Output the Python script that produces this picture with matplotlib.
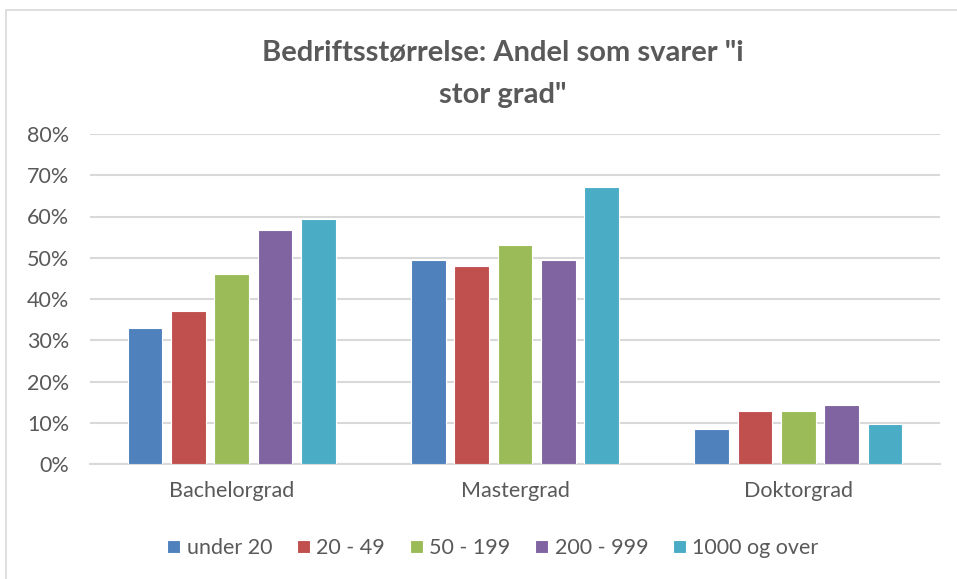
import matplotlib
matplotlib.use("Agg")
import matplotlib.pyplot as plt
import numpy as np
from matplotlib.patches import Rectangle

categories = ["Bachelorgrad", "Mastergrad", "Doktorgrad"]
series_names = ["under 20", "20 - 49", "50 - 199", "200 - 999", "1000 og over"]
under_20 = [32.9, 49.5, 8.4]
s20_49 = [37.0, 48.0, 12.8]
s50_199 = [46.1, 53.1, 12.9]
s200_999 = [56.7, 49.5, 14.2]
s1000_over = [59.4, 67.1, 9.8]
values = [under_20, s20_49, s50_199, s200_999, s1000_over]
colors = ["#4F81BD", "#C0504D", "#9BBB59", "#8064A2", "#4BACC6"]
yticks = [0, 10, 20, 30, 40, 50, 60, 70, 80]

plt.rcParams['font.family'] = ['Lato', 'DejaVu Sans']
fig = plt.figure(figsize=(9.57, 5.79), dpi=100)
fig.patches.append(Rectangle((6/957, -0.01), 1.02, (579-10)/579 + 0.01, transform=fig.transFigure,
                             fill=False, edgecolor="#d9d9d9", linewidth=1.2))
ax = fig.add_axes([90/957, 115/579, 850/957, 330/579])

x = np.arange(len(categories))
bw = 0.122
step = 0.153
for i, (name, vals, c) in enumerate(zip(series_names, values, colors)):
    ax.bar(x + (i - 2) * step, vals, width=bw, color=c, edgecolor="white", linewidth=0.8,
           label=name, zorder=3)

ax.set_xlim(-0.5, 2.5)
ax.set_ylim(0, 80)
ax.set_yticks(yticks)
ax.set_yticklabels([f"{v}%" for v in yticks])
ax.yaxis.grid(True, color="#d9d9d9", linewidth=1.5, zorder=0)
ax.set_axisbelow(True)
for s in ["top", "right", "left"]:
    ax.spines[s].set_visible(False)
ax.spines["bottom"].set_color("#d9d9d9")
ax.spines["bottom"].set_linewidth(1.5)
ax.tick_params(axis="both", length=0, labelsize=15.5, labelcolor="#595959")
ax.tick_params(axis="y", pad=15)
ax.tick_params(axis="x", pad=12)
ax.set_xticks(x)
ax.set_xticklabels(categories)

fig.text(503/957, 1 - 53/579, "Bedriftsstørrelse: Andel som svarer \"i", ha="center", va="center",
         fontsize=21, fontweight="bold", color="#595959")
fig.text(503/957, 1 - 95/579, "stor grad\"", ha="center", va="center",
         fontsize=21, fontweight="bold", color="#595959")

leg = fig.legend(loc="center", bbox_to_anchor=(493/957, 1 - 548/579), ncol=5, frameon=False,
                 fontsize=15.5, handlelength=0.6, handleheight=0.6, handletextpad=0.3,
                 columnspacing=1.15, labelcolor="#595959")

fig.savefig("out.png", dpi=100)
